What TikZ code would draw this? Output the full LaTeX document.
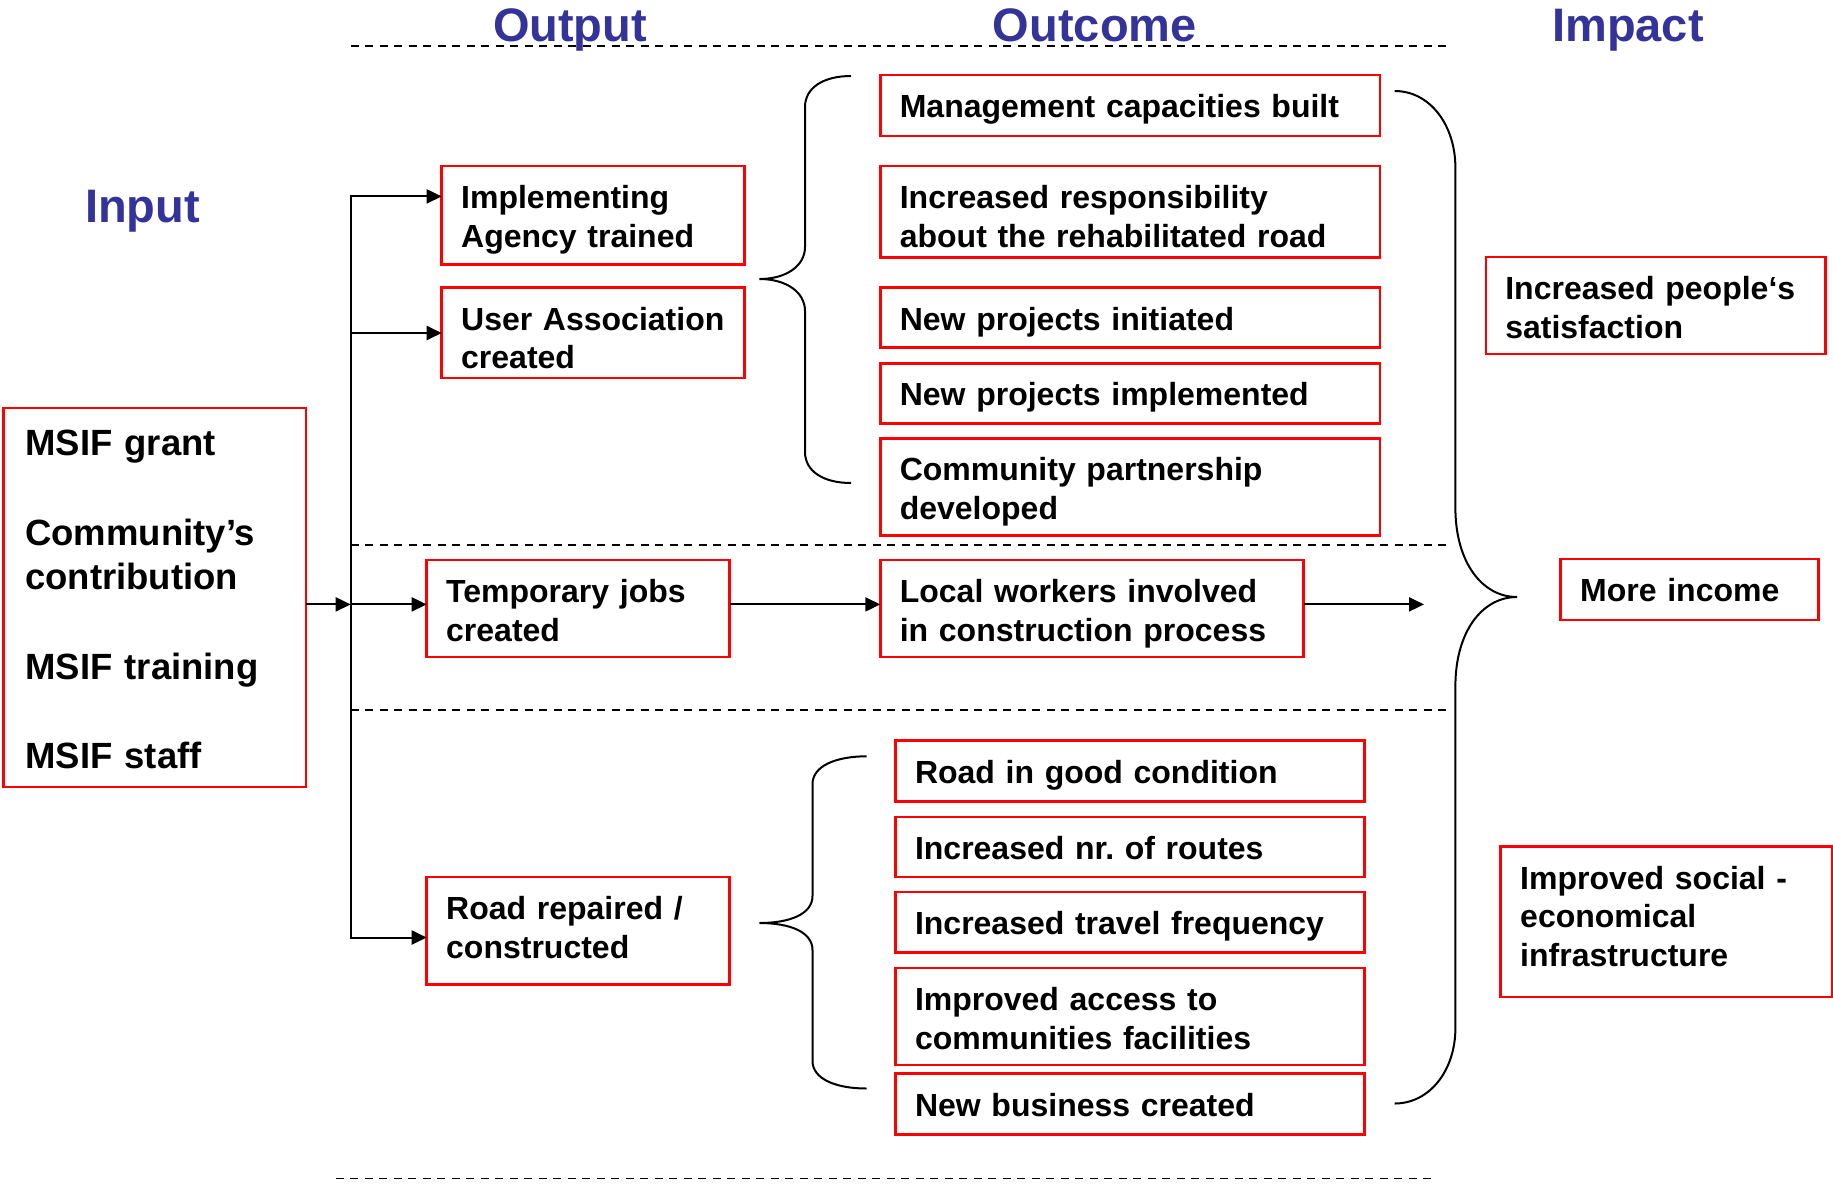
\documentclass[tikz,border=0pt]{standalone}
\usepackage{fontspec}
\setmainfont{Liberation Sans}
\usetikzlibrary{arrows.meta,fit}
\definecolor{hdr}{RGB}{51,51,153}
\definecolor{boxred}{RGB}{255,0,0}
\frenchspacing
\begin{document}
\begin{tikzpicture}[x=1pt,y=-1pt,
  box/.style={draw=boxred, line width=2.6pt, inner sep=0pt, outer sep=0pt},
  txt/.style={anchor=base west, inner sep=0pt, outer sep=0pt, align=left, text width=700pt,
              font=\fontsize{32}{38.5}\selectfont\bfseries\frenchspacing},
  intxt/.style={txt, xshift=19.5pt, yshift=-42.7pt},
  bigtxt/.style={txt, xshift=22pt, yshift=-47pt, font=\fontsize{36.5}{44}\selectfont\bfseries},
  hd/.style={anchor=base, inner sep=0pt, text=hdr, font=\fontsize{47}{56}\selectfont\bfseries},
  ln/.style={line width=2pt, line cap=rect},
  arr/.style={line width=2pt, -{Triangle[length=15pt,width=14pt]}},
  sep/.style={line width=1.8pt, dash pattern=on 8pt off 6.5pt},
  brace/.style={line width=2pt}]
\useasboundingbox (0,0) rectangle (1833,1184);

% headers
\node[hd] (hInput) at (142.5,222) {Input};
\node[hd] (hOutput) at (570,41) {Output};
\node[hd] (hOutcome) at (1094.8,41) {Outcome};
\node[hd] (hImpact) at (1628,41) {Impact};

% dashed separators
\draw[sep] (350.7,45.6) -- (1450,45.6);
\draw[sep] (350.7,544.7) -- (1450,544.7);
\draw[sep] (350.7,709.6) -- (1450,709.6);
\draw[sep] (335.5,1178.4) -- (1435.5,1178.4);

% boxes
\node[box, fit={(3.3,408) (306,787)}] (inp) {};
\node[box, fit={(441.7,166) (744.7,264.3)}] (ia) {};
\node[box, fit={(441.7,287.5) (744.7,377.8)}] (ua) {};
\node[box, fit={(426.7,560) (729.5,657)}] (tj) {};
\node[box, fit={(426.7,876.8) (729.5,984.3)}] (road) {};
\node[box, fit={(880.3,75) (1379.8,136)}] (mc) {};
\node[box, fit={(880.3,166) (1379.8,257.2)}] (ir) {};
\node[box, fit={(880.3,287.6) (1379.8,347.4)}] (npi) {};
\node[box, fit={(880.3,363.2) (1379.8,423.2)}] (npm) {};
\node[box, fit={(880.3,438.2) (1379.8,535.5)}] (cp) {};
\node[box, fit={(880.3,560) (1303.5,657)}] (lw) {};
\node[box, fit={(895.5,740.5) (1364.3,801.6)}] (rg) {};
\node[box, fit={(895.5,816.8) (1364.3,877)}] (rt) {};
\node[box, fit={(895.5,892) (1364.3,952.7)}] (tf) {};
\node[box, fit={(895.5,968) (1364.3,1064.8)}] (ac) {};
\node[box, fit={(895.5,1073.5) (1364.3,1134.4)}] (nb) {};
\node[box, fit={(1485.8,256.8) (1825.2,354)}] (ps) {};
\node[box, fit={(1560.7,559) (1818.2,620)}] (mi) {};
\node[box, fit={(1500.7,846.7) (1832,997)}] (is) {};

% texts
\node[bigtxt] (inp-t) at (inp.north west) {MSIF grant\\[46pt]Community’s\\contribution\\[46pt]MSIF training\\[45pt]MSIF staff};
\node[intxt] (ia-t) at (ia.north west) {Implementing\\Agency trained};
\node[intxt] (ua-t) at (ua.north west) {User Association\\created};
\node[intxt] (tj-t) at (tj.north west) {Temporary jobs\\created};
\node[intxt] (road-t) at (road.north west) {Road repaired /\\constructed};
\node[intxt] (mc-t) at (mc.north west) {Management capacities built};
\node[intxt] (ir-t) at (ir.north west) {Increased responsibility\\about the rehabilitated road};
\node[intxt] (npi-t) at (npi.north west) {New projects initiated};
\node[intxt] (npm-t) at (npm.north west) {New projects implemented};
\node[intxt] (cp-t) at (cp.north west) {Community partnership\\developed};
\node[intxt] (lw-t) at (lw.north west) {Local workers involved\\in construction process};
\node[intxt] (rg-t) at (rg.north west) {Road in good condition};
\node[intxt] (rt-t) at (rt.north west) {Increased nr. of routes};
\node[intxt] (tf-t) at (tf.north west) {Increased travel frequency};
\node[intxt] (ac-t) at (ac.north west) {Improved access to\\communities facilities};
\node[intxt] (nb-t) at (nb.north west) {New business created};
\node[intxt] (ps-t) at (ps.north west) {Increased people‘s\\satisfaction};
\node[intxt] (mi-t) at (mi.north west) {More income};
\node[intxt] (is-t) at (is.north west) {Improved social -\\economical\\infrastructure};

% trunk and connectors
\coordinate (tTop) at (350.7,196.4);
\coordinate (tUA) at (350.7,333);
\coordinate (tTJ) at (350.7,604.4);
\coordinate (tRoad) at (350.7,937.5);
\coordinate (lwEnd) at (1424,604.4);
\draw[ln] (tTop) -- (tRoad);
\draw[arr] (tTop) -- (ia.west |- tTop);
\draw[arr] (tUA) -- (ua.west |- tUA);
\draw[arr] (tTJ) -- (tj.west |- tTJ);
\draw[arr] (tRoad) -- (road.west |- tRoad);
\draw[arr] (inp.east |- tTJ) -- (tTJ);
\draw[arr] (tj.east |- tTJ) -- (lw.west |- tTJ);
\draw[arr] (lw.east |- lwEnd) -- (lwEnd);

% braces
\draw[brace] (851,76) .. controls (823,76) and (805,88) .. (805,107) -- (805,247)
  .. controls (805,266) and (786,279) .. (759.5,279)
  .. controls (786,279) and (805,292) .. (805,311) -- (805,452)
  .. controls (805,471) and (823,483) .. (851,483);
\draw[brace] (866.5,756.3) .. controls (836,756.3) and (812.5,766) .. (812.5,784) -- (812.5,896)
  .. controls (812.5,914) and (790,923) .. (759.5,923)
  .. controls (790,923) and (812.5,932) .. (812.5,950) -- (812.5,1061)
  .. controls (812.5,1079) and (836,1088.5) .. (866.5,1088.5);
\draw[brace] (1394.6,91) .. controls (1430,91) and (1455.4,125) .. (1455.4,168) -- (1455.4,508)
  .. controls (1455.4,562) and (1482,597) .. (1517,597)
  .. controls (1482,597) and (1455.4,632) .. (1455.4,686) -- (1455.4,1028)
  .. controls (1455.4,1070) and (1430,1103.5) .. (1394.6,1103.5);
\end{tikzpicture}
\end{document}
